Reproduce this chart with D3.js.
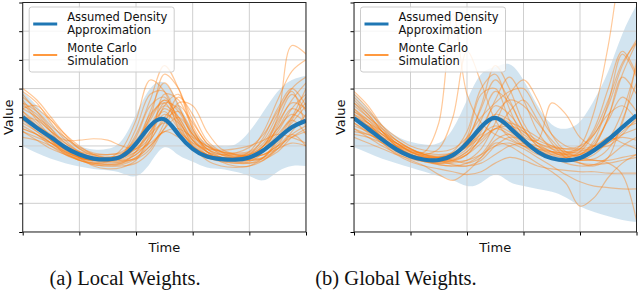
<!DOCTYPE html>
<html>
<head>
<meta charset="utf-8">
<script src="https://cdn.jsdelivr.net/npm/d3@7/dist/d3.min.js"></script>
<style>
  body { margin: 0; background: #fff; }
  svg { display: block; }
</style>
</head>
<body>
<svg id="main" width="640" height="303"></svg>
<script>
// time grid shared by every series
const T = [0, 0.05, 0.1, 0.15, 0.2, 0.25, 0.3, 0.35, 0.4, 0.45, 0.5, 0.55, 0.6, 0.65, 0.7, 0.75, 0.8, 0.85, 0.9, 0.95, 1]
const xTicks = [0, 0.2, 0.4, 0.6, 0.8, 1]
const yTicks = [0, 1, 2, 3, 4, 5, 6, 7, 8]

// (a) local weights
const localMean  = [4.0, 3.63, 3.3, 2.95, 2.7, 2.56, 2.53, 2.64, 3.08, 3.7, 3.93, 3.4, 2.9, 2.63, 2.54, 2.52, 2.6, 2.85, 3.25, 3.65, 3.88]
const localUpper = [4.9, 4.4, 3.8, 3.3, 3.0, 2.88, 2.9, 3.2, 4.1, 5.0, 5.2, 4.5, 3.6, 3.1, 3.0, 3.05, 3.5, 4.2, 4.9, 5.3, 5.45]
const localLower = [3.0, 2.75, 2.55, 2.4, 2.28, 2.2, 2.15, 2.05, 1.95, 2.4, 2.95, 2.68, 2.45, 2.25, 2.2, 2.1, 1.95, 1.8, 2.1, 2.3, 2.3]
const localRuns = [
  [4.9, 4.5, 3.8, 3.2, 2.8, 2.6, 2.5, 2.6, 3.0, 4.2, 5.2, 4.4, 3.3, 2.8, 2.6, 2.5, 2.6, 3.0, 3.8, 4.6, 5.2],
  [4.3, 4.4, 3.9, 3.3, 2.9, 2.7, 2.6, 2.7, 3.4, 4.6, 5.8, 5.0, 3.6, 2.9, 2.7, 2.6, 2.7, 3.3, 4.3, 5.0, 4.4],
  [3.6, 3.4, 3.1, 2.8, 2.6, 2.45, 2.4, 2.45, 2.7, 3.2, 3.9, 4.2, 3.5, 2.9, 2.6, 2.45, 2.4, 2.5, 2.9, 3.4, 3.7],
  [4.6, 4.0, 3.5, 3.2, 3.2, 3.25, 3.2, 3.0, 2.9, 3.3, 4.4, 4.8, 3.9, 3.1, 2.8, 2.7, 2.75, 3.1, 3.9, 4.8, 4.2],
  [3.9, 3.7, 3.4, 3.0, 2.6, 2.3, 2.2, 2.25, 2.5, 3.4, 4.3, 3.9, 3.0, 2.5, 2.3, 2.25, 2.3, 2.6, 3.2, 3.8, 4.4],
  [4.2, 3.8, 3.2, 2.7, 2.5, 2.4, 2.45, 2.7, 3.6, 4.8, 4.9, 3.8, 3.0, 2.7, 2.6, 2.6, 2.8, 3.5, 4.6, 5.6, 6.0],
  [3.5, 3.2, 2.9, 2.7, 2.5, 2.4, 2.35, 2.4, 2.6, 3.0, 3.6, 4.5, 4.4, 3.5, 2.9, 2.7, 2.6, 2.7, 3.0, 3.3, 3.5],
  [4.8, 4.2, 3.6, 3.0, 2.7, 2.55, 2.5, 2.55, 2.8, 3.5, 4.5, 4.3, 3.4, 2.9, 2.7, 2.65, 2.7, 3.0, 3.5, 4.3, 4.8],
  [4.0, 3.9, 3.5, 3.1, 2.8, 2.6, 2.55, 2.6, 2.8, 3.1, 3.5, 3.6, 3.3, 3.0, 2.8, 2.7, 2.65, 2.7, 2.9, 3.1, 3.0],
  [4.4, 4.1, 3.5, 2.9, 2.6, 2.5, 2.55, 2.9, 3.9, 5.3, 4.9, 3.6, 2.9, 2.6, 2.5, 2.5, 2.6, 3.0, 3.6, 4.3, 4.0],
  [3.8, 3.5, 3.2, 2.9, 2.65, 2.55, 2.5, 2.6, 2.9, 3.5, 4.1, 3.8, 3.2, 2.8, 2.6, 2.55, 2.5, 2.55, 2.8, 3.3, 3.6],
  [5.0, 4.6, 4.0, 3.4, 2.9, 2.65, 2.6, 2.7, 3.1, 3.9, 4.6, 4.2, 3.4, 3.0, 2.8, 2.75, 2.8, 3.2, 4.1, 5.0, 5.4],
  [3.3, 3.2, 3.0, 2.75, 2.5, 2.35, 2.3, 2.3, 2.4, 2.8, 3.6, 4.0, 3.4, 2.8, 2.5, 2.4, 2.4, 2.6, 3.1, 3.7, 3.9],
  [4.5, 4.2, 3.7, 3.3, 2.95, 2.75, 2.7, 2.8, 3.2, 4.0, 5.5, 5.0, 3.7, 3.0, 2.75, 2.65, 2.7, 2.9, 3.4, 4.0, 4.5],
  [4.1, 3.7, 3.3, 3.0, 2.8, 2.7, 2.7, 2.75, 3.0, 3.7, 4.2, 3.6, 3.0, 2.7, 2.6, 2.6, 2.7, 3.0, 4.0, 6.5, 6.2],
  [4.7, 4.3, 3.9, 3.4, 3.0, 2.7, 2.55, 2.5, 2.55, 2.9, 3.8, 4.7, 4.1, 3.2, 2.8, 2.6, 2.55, 2.6, 2.9, 3.5, 4.1],
  [3.7, 3.4, 3.0, 2.7, 2.55, 2.5, 2.5, 2.6, 3.0, 4.0, 4.6, 4.0, 3.2, 2.8, 2.7, 2.75, 2.95, 3.4, 4.2, 4.9, 3.6],
  [4.3, 4.0, 3.6, 3.1, 2.75, 2.6, 2.6, 2.65, 2.9, 3.4, 3.8, 3.5, 3.1, 2.9, 2.85, 2.9, 3.0, 3.2, 3.4, 3.3, 3.1],
  [3.5, 3.3, 3.1, 2.9, 2.7, 2.55, 2.45, 2.45, 2.6, 3.2, 4.8, 4.6, 3.6, 2.8, 2.45, 2.3, 2.3, 2.5, 3.0, 3.9, 4.7],
  [4.5, 3.9, 3.3, 2.85, 2.6, 2.5, 2.5, 2.7, 3.3, 4.4, 4.7, 3.9, 3.1, 2.7, 2.55, 2.5, 2.55, 2.8, 3.3, 3.9, 3.4],
  [4.0, 3.6, 3.2, 2.85, 2.6, 2.5, 2.45, 2.5, 2.7, 3.2, 4.0, 4.4, 3.8, 3.1, 2.7, 2.55, 2.5, 2.6, 3.2, 4.0, 5.0],
  [3.9, 3.5, 3.1, 2.75, 2.5, 2.35, 2.3, 2.35, 2.55, 3.0, 3.5, 3.3, 2.9, 2.6, 2.45, 2.4, 2.45, 2.8, 3.7, 4.5, 4.3],
  [4.2, 3.7, 3.2, 2.8, 2.6, 2.5, 2.5, 2.6, 3.1, 4.1, 4.5, 3.7, 3.0, 2.7, 2.6, 2.55, 2.6, 2.7, 3.0, 3.4, 3.0],
  [3.6, 3.4, 3.1, 2.8, 2.55, 2.4, 2.35, 2.4, 2.8, 3.7, 4.4, 4.0, 3.2, 2.7, 2.5, 2.45, 2.5, 2.9, 3.6, 4.1, 3.8]
]

// (b) global weights
const globalMean  = [3.97, 3.6, 3.22, 2.88, 2.64, 2.52, 2.51, 2.68, 3.1, 3.66, 3.98, 3.65, 3.2, 2.8, 2.57, 2.5, 2.58, 2.85, 3.22, 3.65, 4.07]
const globalUpper = [4.85, 4.3, 3.75, 3.35, 3.15, 3.05, 3.1, 3.6, 4.6, 5.5, 5.75, 5.85, 5.3, 4.4, 3.75, 3.6, 3.85, 4.6, 5.6, 6.9, 7.9]
const globalLower = [2.95, 2.75, 2.55, 2.4, 2.25, 2.1, 1.95, 1.8, 1.6, 1.72, 2.0, 1.75, 1.6, 1.5, 1.4, 1.2, 0.9, 0.7, 0.55, 0.42, 0.35]
const globalRuns = [
  [4.3, 3.9, 3.4, 3.0, 2.8, 2.8, 3.8, 7.6, 4.8, 3.8, 3.4, 3.2, 3.0, 2.9, 2.8, 2.75, 2.8, 3.0, 3.3, 3.6, 3.8],
  [4.6, 4.1, 3.5, 3.0, 2.75, 2.7, 2.9, 4.0, 6.3, 5.2, 3.9, 3.3, 3.0, 2.8, 2.7, 2.7, 2.9, 3.6, 5.0, 6.3, 5.5],
  [4.9, 4.4, 3.7, 3.2, 2.9, 2.7, 2.6, 2.7, 3.2, 4.3, 5.3, 4.6, 3.6, 3.0, 2.8, 2.75, 3.0, 4.2, 6.5, 9.5, 11],
  [3.4, 3.3, 3.1, 2.9, 2.7, 2.5, 2.35, 2.3, 2.4, 2.7, 3.4, 4.2, 4.6, 3.9, 3.1, 2.6, 2.4, 2.35, 2.4, 2.5, 2.6],
  [4.1, 3.7, 3.3, 2.95, 2.7, 2.55, 2.5, 2.55, 2.8, 3.5, 4.6, 5.4, 4.6, 3.5, 2.9, 2.7, 2.7, 3.0, 4.0, 5.5, 6.6],
  [3.8, 3.5, 3.1, 2.7, 2.45, 2.3, 2.2, 2.1, 2.0, 2.1, 2.4, 2.6, 2.5, 2.3, 2.2, 2.15, 2.1, 2.1, 2.05, 2.05, 2.05],
  [4.4, 4.0, 3.6, 3.2, 2.9, 2.7, 2.6, 2.5, 2.4, 2.6, 3.1, 3.0, 2.7, 2.4, 2.1, 1.7, 0.9, 1.2, 1.9, 2.4, 2.7],
  [4.0, 3.8, 3.5, 3.2, 2.9, 2.65, 2.5, 2.5, 2.7, 3.3, 4.0, 3.8, 3.3, 3.2, 4.5, 4.1, 3.3, 3.0, 3.0, 3.4, 4.0],
  [3.6, 3.3, 3.0, 2.75, 2.5, 2.3, 2.0, 1.8, 2.1, 2.6, 3.2, 3.4, 3.1, 2.8, 2.6, 2.5, 2.5, 2.7, 3.2, 4.2, 5.8],
  [4.7, 4.2, 3.7, 3.3, 3.0, 2.85, 2.8, 2.9, 3.3, 4.0, 4.5, 4.9, 5.0, 4.2, 3.4, 3.0, 2.9, 3.0, 3.2, 3.3, 3.2],
  [3.3, 3.1, 2.9, 2.7, 2.55, 2.45, 2.4, 2.5, 2.8, 3.2, 3.6, 3.4, 3.0, 2.7, 2.55, 2.5, 2.5, 2.5, 2.4, 2.0, 0.4],
  [4.2, 3.9, 3.5, 3.1, 2.8, 2.6, 2.55, 2.6, 2.9, 3.6, 4.4, 4.1, 3.5, 3.1, 2.9, 2.8, 2.9, 3.5, 4.6, 5.9, 6.6],
  [3.9, 3.6, 3.25, 2.9, 2.65, 2.5, 2.45, 2.5, 2.7, 3.1, 3.6, 3.8, 3.6, 3.3, 3.0, 2.8, 2.75, 2.9, 3.3, 3.1, 2.9],
  [4.5, 4.1, 3.5, 3.0, 2.7, 2.6, 2.6, 2.8, 3.5, 5.0, 5.5, 4.3, 3.3, 2.8, 2.6, 2.5, 2.6, 3.0, 4.0, 5.4, 4.8],
  [3.7, 3.5, 3.3, 3.1, 2.9, 2.7, 2.5, 2.35, 2.3, 2.4, 2.7, 3.0, 3.1, 3.0, 2.8, 2.6, 2.5, 2.55, 2.9, 3.8, 6.0],
  [4.8, 4.3, 3.6, 3.1, 2.8, 2.65, 2.6, 2.7, 3.0, 3.4, 3.7, 3.5, 3.2, 2.9, 2.75, 2.7, 2.7, 2.8, 3.1, 3.4, 3.6],
  [4.0, 3.7, 3.3, 2.9, 2.6, 2.45, 2.4, 2.45, 2.7, 3.3, 4.1, 4.6, 4.4, 3.8, 3.2, 2.7, 2.4, 2.3, 2.6, 3.9, 5.2],
  [3.5, 3.4, 3.2, 2.95, 2.7, 2.5, 2.4, 2.4, 2.5, 2.9, 3.8, 4.8, 5.3, 4.6, 3.4, 2.8, 2.6, 2.5, 2.5, 2.6, 2.7],
  [4.3, 3.8, 3.3, 2.9, 2.7, 2.6, 2.6, 2.7, 3.0, 3.6, 4.1, 3.9, 3.4, 3.1, 2.95, 2.9, 3.0, 3.4, 4.4, 5.8, 6.7],
  [3.8, 3.45, 3.1, 2.8, 2.6, 2.45, 2.35, 2.3, 2.3, 2.5, 3.0, 3.3, 3.2, 2.9, 2.6, 2.4, 2.3, 2.35, 2.6, 3.0, 3.3],
  [4.1, 3.8, 3.4, 3.05, 2.8, 2.65, 2.6, 2.7, 3.0, 3.9, 4.9, 4.5, 3.6, 3.0, 2.7, 2.6, 2.7, 3.2, 4.5, 6.2, 5.4],
  [3.6, 3.4, 3.2, 3.0, 2.85, 2.75, 2.7, 2.75, 2.95, 3.3, 3.6, 3.7, 3.5, 3.2, 3.0, 2.9, 2.85, 2.9, 3.1, 3.5, 3.9],
  [4.5, 4.0, 3.5, 3.1, 2.85, 2.7, 2.65, 2.75, 3.2, 4.4, 5.8, 5.0, 3.8, 3.1, 2.8, 2.65, 2.7, 3.1, 3.9, 4.7, 4.2],
  [3.9, 3.7, 3.4, 3.1, 2.8, 2.6, 2.5, 2.45, 2.5, 2.7, 3.0, 3.1, 2.9, 2.6, 2.3, 2.0, 1.75, 1.6, 1.55, 1.5, 1.5],
  [4.2, 3.8, 3.3, 2.9, 2.6, 2.5, 2.45, 2.6, 3.3, 4.8, 5.0, 3.9, 3.1, 2.8, 2.65, 2.6, 2.8, 3.4, 4.1, 4.4, 3.9]
]

const legendNames = [["Assumed Density", "Approximation"], ["Monte Carlo", "Simulation"]]
const blue = "#1f77b4", orange = "#ff7f0e"

const svg = d3.select("svg#main")

function panel(id, box, mean, upper, lower, runs, caption) {
    const x = d3.scaleLinear().domain([0, 1]).range([box.x0, box.x1])
    const y = d3.scaleLinear().domain([0, 8]).range([box.y1, box.y0])
    const g = svg.append("g")

    g.append("clipPath").attr("id", "clip" + id)
        .append("rect")
        .attr("x", box.x0).attr("y", box.y0)
        .attr("width", box.x1 - box.x0).attr("height", box.y1 - box.y0)
    const plot = g.append("g").attr("clip-path", `url(#clip${id})`)

    // shaded band
    const band = d3.area()
        .x((d, i) => x(T[i]))
        .y0((d, i) => y(lower[i]))
        .y1((d, i) => y(upper[i]))
        .curve(d3.curveNatural)
    plot.append("path").datum(mean)
        .attr("d", band)
        .attr("fill", blue).attr("fill-opacity", 0.2)

    // grid
    plot.selectAll(".gx").data(xTicks).enter().append("line")
        .attr("x1", d => x(d)).attr("x2", d => x(d))
        .attr("y1", box.y0).attr("y2", box.y1)
        .attr("stroke", "#cfcfcf").attr("stroke-width", 1)
    plot.selectAll(".gy").data(yTicks).enter().append("line")
        .attr("y1", d => y(d)).attr("y2", d => y(d))
        .attr("x1", box.x0).attr("x2", box.x1)
        .attr("stroke", "#cfcfcf").attr("stroke-width", 1)

    // monte carlo runs
    const line = d3.line()
        .x((d, i) => x(T[i]))
        .y(d => y(d))
        .curve(d3.curveCatmullRom.alpha(0.5))
    plot.selectAll(".run").data(runs).enter().append("path")
        .attr("d", line)
        .attr("fill", "none")
        .attr("stroke", orange).attr("stroke-opacity", 0.42).attr("stroke-width", 1.2)

    // mean
    plot.append("path").datum(mean)
        .attr("d", line.curve(d3.curveNatural))
        .attr("fill", "none")
        .attr("stroke", blue).attr("stroke-width", 4.2)

    // ticks without labels
    g.append("g").attr("transform", `translate(0,${box.y1})`)
        .call(d3.axisBottom(x).tickValues(xTicks).tickSize(3.5).tickFormat(""))
        .call(a => a.select(".domain").remove())
    g.append("g").attr("transform", `translate(${box.x0},0)`)
        .call(d3.axisLeft(y).tickValues(yTicks).tickSize(3.5).tickFormat(""))
        .call(a => a.select(".domain").remove())

    g.append("rect")
        .attr("x", box.x0).attr("y", box.y0)
        .attr("width", box.x1 - box.x0).attr("height", box.y1 - box.y0)
        .attr("fill", "none").attr("stroke", "#222").attr("stroke-width", 1)

    // legend
    const lg = g.append("g").attr("transform", `translate(${box.x0 + 6.5},7)`)
    lg.append("rect")
        .attr("width", 145).attr("height", 65).attr("rx", 2.5)
        .attr("fill", "white").attr("fill-opacity", 0.8)
        .attr("stroke", "#cccccc").attr("stroke-width", 1)
    const items = lg.selectAll(".item").data(legendNames).enter().append("g")
        .attr("transform", (d, i) => `translate(0,${i * 31})`)
    items.append("line")
        .attr("x1", 4).attr("x2", 28).attr("y1", 17).attr("y2", 17)
        .attr("stroke", (d, i) => i === 0 ? blue : orange)
        .attr("stroke-width", (d, i) => i === 0 ? 3 : 1.6)
    items.append("text")
        .attr("x", 38).attr("y", 14)
        .attr("font-family", "DejaVu Sans").attr("font-size", 11.5).attr("fill", "#111")
        .selectAll("tspan").data(d => d).enter().append("tspan")
        .attr("x", 38).attr("dy", (d, i) => i === 0 ? 0 : 13.3)
        .text(d => d)

    // axis labels
    g.append("text")
        .attr("x", (box.x0 + box.x1) / 2).attr("y", 252)
        .attr("text-anchor", "middle")
        .attr("font-family", "DejaVu Sans").attr("font-size", 13).attr("fill", "#111")
        .text("Time")
    g.append("text")
        .attr("transform", `translate(${box.x0 - 9.5},${(box.y0 + box.y1) / 2}) rotate(-90)`)
        .attr("text-anchor", "middle")
        .attr("font-family", "DejaVu Sans").attr("font-size", 13).attr("fill", "#111")
        .text("Value")

    // caption
    g.append("text")
        .attr("x", box.cap).attr("y", 285)
        .attr("text-anchor", "middle")
        .attr("font-family", "Liberation Serif").attr("font-size", 20.5).attr("fill", "#111")
        .text(caption)
}

panel("a", {x0: 22.7, x1: 306, y0: 2.5, y1: 232, cap: 125}, localMean, localUpper, localLower, localRuns, "(a) Local Weights.")
panel("b", {x0: 354, x1: 636.5, y0: 2.5, y1: 232, cap: 396}, globalMean, globalUpper, globalLower, globalRuns, "(b) Global Weights.")
</script>
</body>
</html>
